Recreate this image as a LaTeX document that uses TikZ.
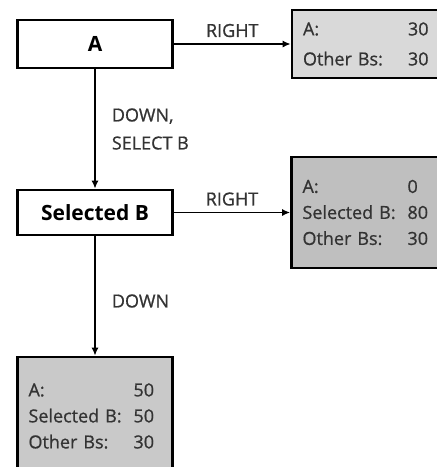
\documentclass[tikz,border=0pt]{standalone}
\usepackage{fontspec}
\setmainfont{Open Sans}
\newfontfamily\scanfont{Open Sans}[FakeBold=0.8]
\usetikzlibrary{arrows.meta}

\definecolor{boxlight}{gray}{0.85}
\definecolor{boxdark}{gray}{0.75}
\definecolor{boxmid}{gray}{0.79}
\definecolor{inkgray}{gray}{0.2}

\newcommand{\valrow}[2]{\makebox[105pt][l]{#1}#2}

\tikzset{
  statebox/.style={draw, line width=2.6pt, fill=white, minimum width=155pt,
    font=\bfseries\fontsize{21}{25}\selectfont},
  scorebox/.style={draw, line width=2.6pt, minimum width=153pt, inner xsep=11pt,
    text width=131pt, align=left, text=inkgray,
    font=\scanfont\fontsize{18}{26}\selectfont},
  move/.style={line width=1.8pt, -{Latex[length=8pt,width=7pt]}},
  movelabel/.style={text=inkgray, font=\scanfont\fontsize{18}{28}\selectfont, inner sep=2pt}
}

\begin{document}
\begin{tikzpicture}[x=1pt, y=-1pt]

    \useasboundingbox (0,0) rectangle (437,467);

    % states on the left
    \node[statebox, minimum height=48pt] (a) at (95,44) {A};
    \node[statebox, minimum height=45pt] (selb) at (95,212.5) {Selected B};

    % score boxes
    \node[scorebox, fill=boxlight, minimum height=68pt] (right1) at (368.5,44)
      {\valrow{A:}{30}\\[4pt]\valrow{Other Bs:}{30}};
    \node[scorebox, fill=boxdark, minimum height=111pt] (right2) at (368,212.5)
      {\valrow{A:}{0}\\\valrow{Selected B:}{80}\\\valrow{Other Bs:}{30}};
    \node[scorebox, fill=boxmid, minimum height=118pt, minimum width=155pt, text width=133pt] (down1) at (95,416)
      {\valrow{A:}{50}\\\valrow{Selected B:}{50}\\\valrow{Other Bs:}{30}};

    % moves
    \draw[move] (a) -- node[movelabel, above, yshift=4pt] {RIGHT} (right1);
    \draw[move] (a) -- node[movelabel, right, align=left, xshift=14pt] {DOWN,\\SELECT B} (selb);
    \draw[move] (selb) -- node[movelabel, above, yshift=4pt] {RIGHT} (right2);
    \draw[move] (selb) -- node[movelabel, right, xshift=14pt, yshift=-5pt] {DOWN} (down1);

\end{tikzpicture}
\end{document}
